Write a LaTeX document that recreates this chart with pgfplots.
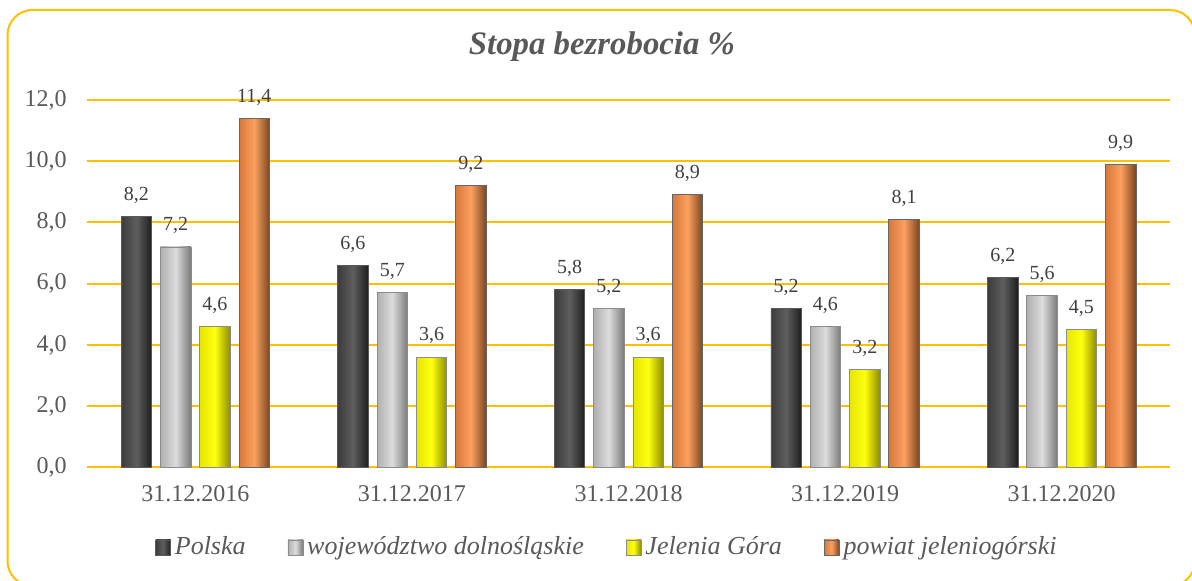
\documentclass[border=0pt]{standalone}
\usepackage{fontspec}
\setmainfont{Liberation Serif}
\usepackage{pgfplots}
\pgfplotsset{compat=1.18}
\definecolor{gold}{HTML}{FFC000}
\definecolor{txt}{HTML}{595959}
\definecolor{lab}{HTML}{404040}
\definecolor{dkL}{HTML}{3C3C3C}
\definecolor{dkM}{HTML}{5E5E5E}
\definecolor{dkR}{HTML}{1E1E1E}
\definecolor{ltL}{HTML}{B0B0B0}
\definecolor{ltM}{HTML}{DCDCDC}
\definecolor{ltR}{HTML}{7A7A7A}
\definecolor{yeL}{HTML}{E6E600}
\definecolor{yeM}{HTML}{FFFF10}
\definecolor{yeR}{HTML}{8C8C00}
\definecolor{orL}{HTML}{D9773A}
\definecolor{orM}{HTML}{FBA060}
\definecolor{orR}{HTML}{7A4520}
\pgfplotsset{
  sA/.style={ybar, bar width=15.25pt, bar shift=-29.475pt, draw=black!65, line width=0.4pt, left color=dkL, right color=dkR, middle color=dkM,
    every node near coord/.append style={xshift=-29.475pt}},
  sB/.style={ybar, bar width=15.25pt, bar shift=-9.825pt, draw=black!45, line width=0.4pt, left color=ltL, right color=ltR, middle color=ltM,
    every node near coord/.append style={xshift=-9.825pt}},
  sC/.style={ybar, bar width=15.25pt, bar shift=9.825pt, draw=black!45, line width=0.4pt, left color=yeL, right color=yeR, middle color=yeM,
    every node near coord/.append style={xshift=9.825pt}},
  sD/.style={ybar, bar width=15.25pt, bar shift=29.475pt, draw=black!60, line width=0.4pt, left color=orL, right color=orR, middle color=orM,
    every node near coord/.append style={xshift=29.475pt}},
}
\begin{document}
\begin{tikzpicture}
\useasboundingbox (0pt,0pt) rectangle (596pt,290pt);
\draw[gold, line width=1pt, rounded corners=12.5pt] (3.75pt,285pt) rectangle (597.5pt,-3pt);
\node[font=\fontsize{16.4}{19}\selectfont\bfseries\itshape, text=txt] at (301pt,266.5pt) {Stopa bezrobocia \%};
\begin{axis}[
  at={(43.5pt,56.35pt)}, anchor=south west,
  width=541.5pt, height=183.65pt, scale only axis,
  xmin=-0.5, xmax=4.5, ymin=0, ymax=12,
  ytick={0,2,...,12},
  xtick={0,1,2,3,4},
  xticklabels={31.12.2016,31.12.2017,31.12.2018,31.12.2019,31.12.2020},
  ymajorgrids, grid style={gold, line width=1pt},
  axis line style={draw=none},
  major tick length=0pt,
  /pgf/number format/.cd, use comma, fixed, fixed zerofill, precision=1, assume math mode=true,
  /pgfplots/.cd,
  tick label style={font=\fontsize{12}{14}\selectfont, text=txt},
  yticklabel style={inner sep=0pt, xshift=-10pt},
  xticklabel style={inner sep=0pt, yshift=-9pt},
  nodes near coords,
  every node near coord/.append style={font=\fontsize{10}{12}\selectfont, text=lab, yshift=3pt},
  legend image code/.code={\draw[#1, line width=0.3pt] (0pt,-3.75pt) rectangle (7.5pt,3.75pt);},
  legend style={at={(0.481,-0.218)}, anchor=center, draw=none, fill=none,
    font=\fontsize{13}{15}\selectfont\itshape, text=txt,
    /tikz/every even column/.append style={column sep=19pt}},
  legend columns=4,
]
% Polska
\addplot[sA] coordinates {(0,8.2)};
\addplot[sA, forget plot] coordinates {(1,6.6)};
\addplot[sA, forget plot] coordinates {(2,5.8)};
\addplot[sA, forget plot] coordinates {(3,5.2)};
\addplot[sA, forget plot] coordinates {(4,6.2)};
% wojewodztwo
\addplot[sB] coordinates {(0,7.2)};
\addplot[sB, forget plot] coordinates {(1,5.7)};
\addplot[sB, forget plot] coordinates {(2,5.2)};
\addplot[sB, forget plot] coordinates {(3,4.6)};
\addplot[sB, forget plot] coordinates {(4,5.6)};
% Jelenia Gora
\addplot[sC] coordinates {(0,4.6)};
\addplot[sC, forget plot] coordinates {(1,3.6)};
\addplot[sC, forget plot] coordinates {(2,3.6)};
\addplot[sC, forget plot] coordinates {(3,3.2)};
\addplot[sC, forget plot] coordinates {(4,4.5)};
% powiat
\addplot[sD] coordinates {(0,11.4)};
\addplot[sD, forget plot] coordinates {(1,9.2)};
\addplot[sD, forget plot] coordinates {(2,8.9)};
\addplot[sD, forget plot] coordinates {(3,8.1)};
\addplot[sD, forget plot] coordinates {(4,9.9)};
\legend{Polska, województwo dolnośląskie, Jelenia Góra, powiat jeleniogórski}
\end{axis}
\end{tikzpicture}
\end{document}
